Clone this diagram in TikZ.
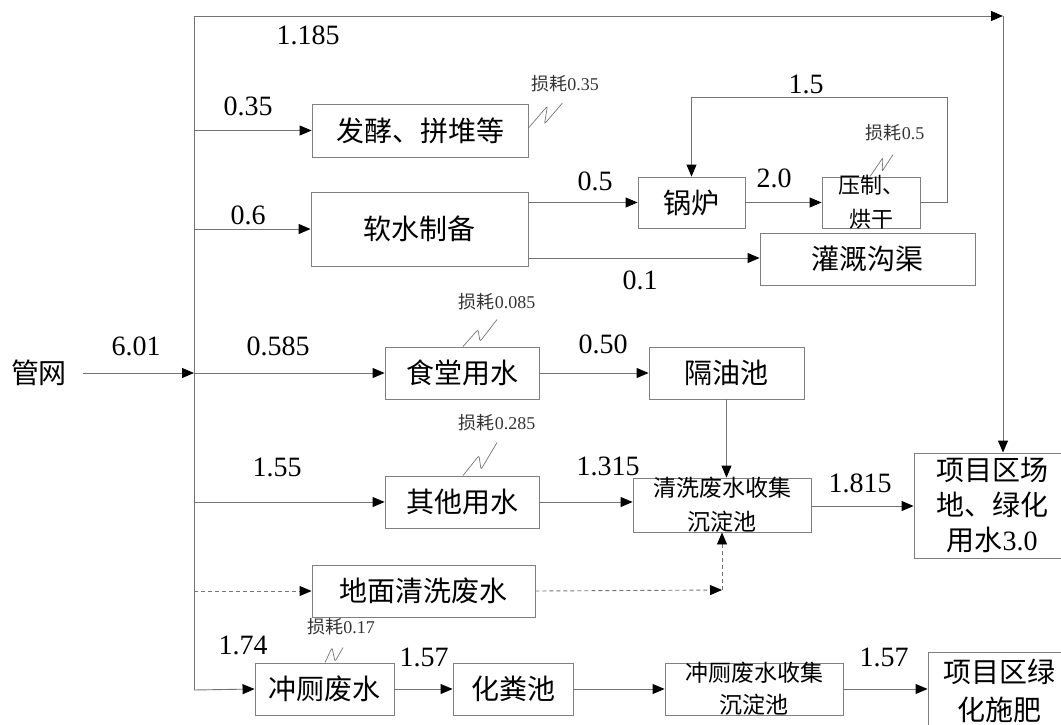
\documentclass[tikz,border=0pt]{standalone}
\usepackage{fontspec}
\setmainfont{Liberation Serif}
\newfontfamily\cjk{Noto Sans CJK SC}
\usetikzlibrary{arrows.meta,calc}
\tikzset{
  ln/.style={draw=black!55, line width=0.9pt},
  arr/.style={ln, -{Triangle[length=12pt,width=10pt,color=black]}},
  dsh/.style={arr, dash pattern=on 4pt off 3pt},
  box/.style={draw=black!50, line width=0.9pt, rectangle, inner sep=0pt, fill=white,
    font=\cjk\fontsize{28}{35}\selectfont, align=center},
  num/.style={font=\fontsize{28}{30}\selectfont, inner sep=0pt},
  losst/.style={font=\fontsize{18}{20}\selectfont, inner sep=0pt, text=black!80},
  lossl/.style={draw=black!55, line width=0.7pt, rounded corners=2pt},
}
\begin{document}
\begin{tikzpicture}[x=1pt,y=-1pt]
\useasboundingbox (0,0) rectangle (1061,725);
% boxes
\node[box, minimum width=216, minimum height=53] (fajiao) at (420,130.5) {发酵、拼堆等};
\node[box, minimum width=217, minimum height=74] (ruanshui) at (419.5,229) {软水制备};
\node[box, minimum width=107, minimum height=51] (guolu) at (691.5,202.5) {锅炉};
\node[box, minimum width=215, minimum height=52] (guangai) at (867.5,259) {灌溉沟渠};
\node[box, minimum width=98, minimum height=51,
  label={[font=\cjk\fontsize{22}{34}\selectfont, align=center]center:压制、\\烘干}] (yazhi) at (871,202.5) {};
\node[box, minimum width=154, minimum height=52] (shitang) at (462,373) {食堂用水};
\node[box, minimum width=155, minimum height=52] (geyou) at (726.5,373) {隔油池};
\node[box, minimum width=154, minimum height=52] (qita) at (462,502) {其他用水};
\node[box, minimum width=178, minimum height=54,
  label={[font=\cjk\fontsize{23}{34}\selectfont, align=center]center:清洗废水收集\\沉淀池}] (qingxi) at (722,505) {};
\node[box, minimum width=156, minimum height=105] (xm1) at (992,505.5) {项目区场\\地、绿化\\用水{\rmfamily 3.0}};
\node[box, minimum width=223, minimum height=52] (dimian) at (423.5,591) {地面清洗废水};
\node[box, minimum width=139, minimum height=52] (chongce) at (324.5,689) {冲厕废水};
\node[box, minimum width=120, minimum height=52] (huafen) at (513,689) {化粪池};
\node[box, minimum width=178, minimum height=52,
  label={[font=\cjk\fontsize{23}{32}\selectfont, align=center]center:冲厕废水收集\\沉淀池}] (ccj) at (754,689) {};
\node[box, minimum width=142, minimum height=78, font=\cjk\fontsize{28}{38}\selectfont] (xm2) at (999,691) {项目区绿\\化施肥};
\node[font=\cjk\fontsize{28}{30}\selectfont, inner sep=0pt] (gw) at (39,373) {管网};

% coordinates
\coordinate (top) at (194,16);
\coordinate (jn) at (194,373);
\coordinate (bot) at (194,690);
\coordinate (tr) at (1003,16);
\coordinate (loop1) at (947,97);
\coordinate (dcorner) at (722,590);

% main trunk
\draw[arr] (gw.east) ++(16,0) -- (jn);
\draw[ln] (top) -- (bot);
\draw[arr] (top) -- (tr);
\draw[arr] (tr) -- (tr |- xm1.north);
\draw[arr] (top |- fajiao.west) -- (fajiao.west);
\draw[arr] (top |- ruanshui.west) -- (ruanshui.west);
\draw[arr] (jn) -- (shitang.west);
\draw[arr] (top |- qita.west) -- (qita.west);
\draw[dsh] (top |- dimian.west) -- (dimian.west);
\draw[arr] (bot) -- (chongce.west);

% second column
\draw[arr] (ruanshui.east |- guolu.west) -- (guolu.west);
\draw[arr] ($(ruanshui.east |- guangai.west)+(0,-1)$) -- ($(guangai.west)+(0,-1)$);
\draw[arr] (guolu.east) -- (yazhi.west);
\draw[arr] (yazhi.east) -| (loop1) -| (guolu.north);
\draw[arr] (shitang.east) -- (geyou.west);
\draw[arr] (geyou.south) -- (geyou.south |- qingxi.north);
\draw[arr] (qita.east) -- (qita.east -| qingxi.west);
\draw[arr] (qingxi.east |- 0,506) -- (xm1.west |- 0,506);
\draw[dsh] (dimian.east) -- (dcorner);
\draw[dsh] (dcorner) -- (qingxi.south);
\draw[arr] (chongce.east) -- (huafen.west);
\draw[arr] (huafen.east) -- (ccj.west);
\draw[arr] (ccj.east) -- (ccj.east -| xm2.west);

% numbers
\node[num] (n1) at (308,35) {1.185};
\node[num] (n2) at (248,106) {0.35};
\node[num] (n3) at (248,215) {0.6};
\node[num] (n4) at (595,181) {0.5};
\node[num] (n5) at (774,178) {2.0};
\node[num] (n6) at (806,84) {1.5};
\node[num] (n7) at (640,280) {0.1};
\node[num] (n8) at (136,346) {6.01};
\node[num] (n9) at (278,346) {0.585};
\node[num] (n10) at (603,344) {0.50};
\node[num] (n11) at (277,467) {1.55};
\node[num] (n12) at (608,466) {1.315};
\node[num] (n13) at (860,483) {1.815};
\node[num] (n14) at (243,645) {1.74};
\node[num] (n15) at (424,657) {1.57};
\node[num] (n16) at (884,657) {1.57};

% losses
\node[losst] (l1) at (565,84) {{\cjk 损耗}0.35};
\node[losst] (l2) at (895,133) {{\cjk 损耗}0.5};
\node[losst] (l3) at (497,302) {{\cjk 损耗}0.085};
\node[losst] (l4) at (497,423) {{\cjk 损耗}0.285};
\node[losst] (l5) at (341,627) {{\cjk 损耗}0.17};
\draw[lossl] (fajiao.east |- 0,128) -- ++(19,-22) -- ++(-3,18) -- ++(18,-21);
\draw[lossl] (yazhi.north -| 870,0) -- ++(13,-19) -- ++(-1,14) -- ++(11,-17);
\draw[lossl] (shitang.north -| 463,0) -- ++(15,-17) -- ++(2,12) -- ++(17,-22);
\draw[lossl] (qita.north -| 463,0) -- ++(16,-20) -- ++(2,14) -- ++(16,-27);
\draw[lossl] (chongce.north -| 325,0) -- ++(7,-15) -- ++(3,14) -- ++(8,-14);
\end{tikzpicture}
\end{document}
